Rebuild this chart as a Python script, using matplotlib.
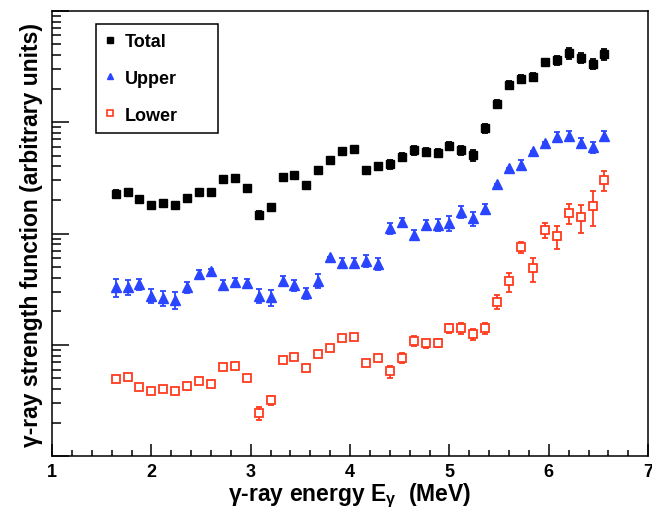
import numpy as np
import matplotlib
matplotlib.use('Agg')
import matplotlib.pyplot as plt
from matplotlib.lines import Line2D
from matplotlib.ticker import LogLocator, MultipleLocator, NullFormatter

plt.rcParams['font.family'] = ['Liberation Sans', 'DejaVu Sans']
plt.rcParams['font.weight'] = 'bold'

# gamma energies (MeV), 0.12 MeV bins
energy = [1.64, 1.76, 1.88, 2.00, 2.12, 2.24, 2.36, 2.48, 2.60, 2.72,
          2.84, 2.96, 3.08, 3.20, 3.32, 3.44, 3.56, 3.68, 3.80, 3.92,
          4.04, 4.16, 4.28, 4.40, 4.52, 4.64, 4.76, 4.88, 5.00, 5.12,
          5.24, 5.36, 5.48, 5.60, 5.72, 5.84, 5.96, 6.08, 6.20, 6.32,
          6.44, 6.56]

# strength function (arbitrary units) and relative errors in percent
total = [226, 237, 204, 181, 187, 180, 207, 234, 234, 307,
         315, 258, 147, 172, 319, 335, 274, 374, 457, 554,
         570, 374, 401, 421, 489, 562, 540, 531, 610, 562,
         507, 885, 1462, 2152, 2437, 2556, 3444, 3589, 4149, 3760,
         3344, 4086]
total_err = [8, 6, 6, 6, 6, 6, 6, 2, 2, 2,
             2, 2, 8, 8, 2, 2, 2, 2, 2, 2,
             2, 2, 8, 9, 9, 9, 8, 8, 8, 9,
             11, 9, 8, 8, 8, 8, 8, 9, 11, 10,
             11, 11]

upper = [32.9, 33.3, 35.2, 27.7, 26.5, 25.5, 32.9, 43.3, 45.8, 34.5,
         36.5, 35.7, 27.7, 26.8, 37.7, 34.5, 29.2, 37.7, 61.1, 54.3,
         54.3, 57.0, 53.6, 111, 126, 97.5, 120, 120, 124, 157,
         137, 166, 277, 385, 415, 547, 646, 740, 755, 649,
         598, 755]
upper_err = [18, 16, 12, 14, 16, 18, 12, 8, 4, 10,
             10, 10, 14, 16, 10, 12, 12, 14, 1, 10,
             10, 12, 12, 11, 10, 10, 10, 12, 15, 12,
             14, 10, 1, 1, 10, 1, 2, 10, 10, 10,
             12, 10]

lower = [4.91, 5.15, 4.16, 3.85, 3.99, 3.85, 4.25, 4.71, 4.46, 6.29,
         6.50, 5.01, 2.43, 3.18, 7.31, 7.83, 6.17, 8.23, 9.32, 11.5,
         11.7, 6.84, 7.58, 5.79, 7.67, 10.9, 10.3, 10.5, 14.1, 14.1,
         12.5, 14.1, 24.4, 37.2, 75.7, 48.7, 108, 94.4, 152, 140,
         178, 302]
lower_err = [3, 3, 3, 3, 3, 3, 3, 3, 3, 3,
             3, 3, 13, 10, 2, 2, 2, 2, 2, 2,
             2, 4, 6, 12, 10, 10, 8, 8, 10, 12,
             12, 12, 14, 20, 12, 24, 15, 23, 20, 28,
             34, 20]

blue = '#2a45ff'
red = '#ff3b1f'

fig = plt.figure(figsize=(6.52, 5.10), dpi=100)
ax = fig.add_axes([0.0798, 0.1033, 0.9143, 0.8737])

e = np.array(energy)
for vals, errs, kw in [
    (total, total_err, dict(fmt='s', color='black', ms=6)),
    (upper, upper_err, dict(fmt='^', color=blue, ms=6.8)),
    (lower, lower_err, dict(fmt='s', color=red, ms=6.2, mfc='white', mew=1.3)),
]:
    v = np.array(vals)
    ax.errorbar(e, v, yerr=v * np.array(errs) / 100.0, capsize=2,
                elinewidth=1.3, capthick=1.3, **kw)

ax.set_yscale('log')
ax.set_xlim(1, 7)
ax.set_ylim(1, 1e4)

ax.xaxis.set_major_locator(MultipleLocator(1))
ax.xaxis.set_minor_locator(MultipleLocator(0.2))
ax.yaxis.set_major_locator(LogLocator(base=10))
ax.yaxis.set_minor_locator(LogLocator(base=10, subs=np.arange(2, 10)))
ax.yaxis.set_major_formatter(NullFormatter())
ax.yaxis.set_minor_formatter(NullFormatter())

ax.tick_params(axis='x', which='major', direction='in', length=8.6, width=1.1,
               top=False, labelsize=13, pad=5)
ax.tick_params(axis='x', which='minor', direction='in', length=4.3, width=1.1, top=False)
ax.tick_params(axis='y', which='major', direction='in', length=12, width=1.1, right=False)
ax.tick_params(axis='y', which='minor', direction='in', length=6.5, width=1.1, right=False)
for s in ax.spines.values():
    s.set_linewidth(1.1)

ax.set_xlabel('γ-ray energy E$_{\\mathregular{γ}}$  (MeV)', fontsize=16.5,
              fontweight='bold', labelpad=0)
ax.set_ylabel('γ-ray strength function (arbitrary units)', fontsize=16.5,
              fontweight='bold', labelpad=3)

handles = [
    Line2D([], [], ls='none', marker='s', color='black', ms=4.5),
    Line2D([], [], ls='none', marker='^', color=blue, ms=5),
    Line2D([], [], ls='none', marker='s', color=red, mfc='white', ms=4.5, mew=1.2),
]
leg = ax.legend(handles, ['Total', 'Upper', 'Lower'], loc='upper left',
                bbox_to_anchor=(0.073, 0.5, 0.205, 0.4705), mode='expand',
                borderaxespad=0, fancybox=False, framealpha=1,
                edgecolor='black', handlelength=0.6, handletextpad=0.5,
                labelspacing=1.1, borderpad=0.5, prop=dict(size=13, weight='bold'))
leg.get_frame().set_linewidth(1.1)

fig.savefig('out.png', dpi=100)
